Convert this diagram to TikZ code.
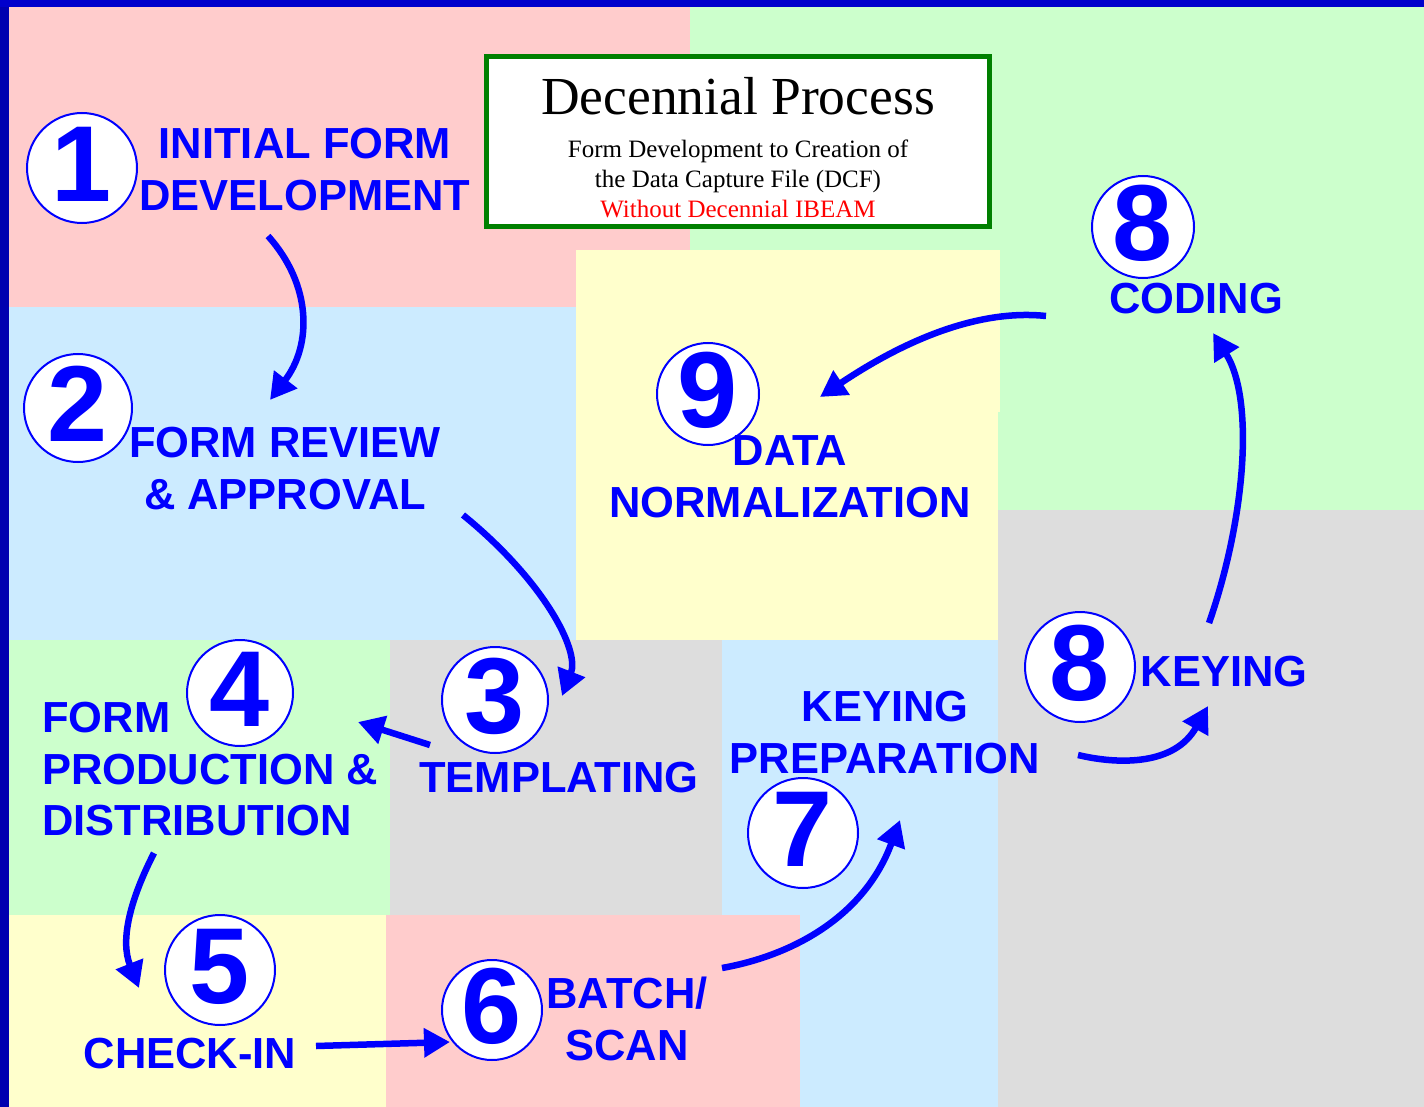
\documentclass[tikz,border=0pt]{standalone}
\usepackage{fontspec}
\setmainfont{Liberation Serif}
\setsansfont{Liberation Sans}
\usetikzlibrary{arrows.meta}
\definecolor{pinkbg}{HTML}{FFCCCC}
\definecolor{greenbg}{HTML}{CCFFCC}
\definecolor{bluebg}{HTML}{CCEBFF}
\definecolor{yellowbg}{HTML}{FFFFCC}
\definecolor{graybg}{HTML}{DDDDDD}
\definecolor{blu}{HTML}{0000FF}
\definecolor{leftbar}{HTML}{0000B0}
\definecolor{topbar}{HTML}{0000CC}
\definecolor{boxgreen}{HTML}{008000}
\definecolor{redtxt}{HTML}{FF0000}
\begin{document}
\begin{tikzpicture}[x=1pt,y=-1pt,
  lbl/.style={text=blu, font=\sffamily\bfseries\fontsize{43.5}{52}\selectfont, inner sep=0pt},
  num/.style={circle, draw=blu, line width=2pt, fill=white, inner sep=0pt, text=blu,
    text height=67pt, text depth=0pt,
    font=\sffamily\bfseries\fontsize{108}{108}\selectfont},
  flow/.style={draw=blu, line width=6.5pt, -{Triangle[length=26pt,width=28pt]}}]
\useasboundingbox (0,0) rectangle (1424,1107);
% background regions
\fill[pinkbg] (9,7) rectangle (690,307);
\fill[greenbg] (690,7) rectangle (1424,510);
\fill[bluebg] (9,307) rectangle (576,640);
\fill[yellowbg] (576,250) rectangle (1000,412);
\fill[yellowbg] (576,412) rectangle (998,640);
\fill[graybg] (998,510) rectangle (1424,1107);
\fill[greenbg] (9,640) rectangle (390,915);
\fill[graybg] (390,640) rectangle (722,915);
\fill[bluebg] (722,640) rectangle (998,1107);
\fill[yellowbg] (9,915) rectangle (386,1107);
\fill[pinkbg] (386,915) rectangle (800,1107);
\fill[leftbar] (0,0) rectangle (9,1107);
\fill[topbar] (0,0) rectangle (1424,7);
% title box
\node[draw=boxgreen, line width=5pt, fill=white, minimum width=503pt, minimum height=170pt, inner sep=0pt] (title) at (738,141.5) {};
\node[anchor=base, inner sep=0pt, font=\fontsize{53.5}{53.5}\selectfont] (t1) at (738,115) {Decennial Process};
\node[anchor=base, inner sep=0pt, font=\fontsize{25}{30}\selectfont] (t2) at (738,158) {Form Development to Creation of};
\node[anchor=base, inner sep=0pt, font=\fontsize{25}{30}\selectfont] (t3) at (738,188) {the Data Capture File (DCF)};
\node[anchor=base, inner sep=0pt, text=redtxt, font=\fontsize{25}{30}\selectfont] (t4) at (738,218) {Without Decennial IBEAM};
% number circles
\node[num, minimum size=110pt] (c1) at (82,168) {1};
\node[num, minimum size=108pt] (c2) at (78,408) {2};
\node[num, minimum size=106pt] (c3) at (495,700) {3};
\node[num, minimum size=106pt] (c4) at (240,693) {4};
\node[num, minimum size=110pt] (c5) at (220,970) {5};
\node[num, minimum size=100pt] (c6) at (492,1010) {6};
\node[num, minimum size=110pt] (c7) at (803,833) {7};
\node[num, minimum size=110pt] (c8) at (1080,667) {8};
\node[num, minimum size=102pt] (c8b) at (1143,227) {8};
\node[num, minimum size=102pt] (c9) at (708,394) {9};
% labels
\node[lbl, align=center, anchor=north] (l1) at (305,128) {INITIAL FORM\\DEVELOPMENT};
\node[lbl, align=center, anchor=north] (l2) at (285,427) {FORM REVIEW\\\& APPROVAL};
\node[lbl, anchor=base] (l3) at (559,792) {TEMPLATING};
\node[lbl, align=left, anchor=north west, font=\sffamily\bfseries\fontsize{43.5}{51.5}\selectfont] (l4) at (42,702) {FORM\\PRODUCTION \&\\DISTRIBUTION};
\node[lbl, anchor=base] (l5) at (190,1068) {CHECK-IN};
\node[lbl, align=center, anchor=north] (l6) at (627,977) {BATCH/\\SCAN};
\node[lbl, align=center, anchor=north] (l7) at (885,691) {KEYING\\PREPARATION};
\node[lbl, anchor=base] (l8) at (1224,686) {KEYING};
\node[lbl, anchor=base] (l8b) at (1196,313) {CODING};
\node[lbl, align=center, anchor=north] (l9) at (790,435) {DATA\\NORMALIZATION};
% arrow end points
\coordinate (a1s) at (268,236);
\coordinate (a1e) at (270,400);
\coordinate (a2s) at (463,515);
\coordinate (a2e) at (562,696);
\coordinate (a3s) at (430,745);
\coordinate (a3e) at (358,722);
\coordinate (a4s) at (154,853);
\coordinate (a4e) at (139,988);
\coordinate (a5s) at (316,1046);
\coordinate (a5e) at (450,1042);
\coordinate (a6s) at (722,968);
\coordinate (a6e) at (900,820);
\coordinate (a7s) at (1078,755);
\coordinate (a7e) at (1208,706);
\coordinate (a8s) at (1209,623);
\coordinate (a8e) at (1213,333);
\coordinate (a9s) at (1046,316);
\coordinate (a9e) at (820,397);
% arrows
\draw[flow] (a1s) .. controls (312,285) and (312,345) .. (a1e);
\draw[flow] (a2s) .. controls (543,580) and (580,650) .. (a2e);
\draw[flow] (a3s) -- (a3e);
\draw[flow] (a4s) .. controls (130,900) and (120,940) .. (a4e);
\draw[flow] (a5s) -- (a5e);
\draw[flow] (a6s) .. controls (795,955) and (865,915) .. (a6e);
\draw[flow] (a7s) .. controls (1120,765) and (1175,765) .. (a7e);
\draw[flow] (a8s) .. controls (1245,520) and (1255,400) .. (a8e);
\draw[flow] (a9s) .. controls (990,310) and (920,330) .. (a9e);
\end{tikzpicture}
\end{document}
